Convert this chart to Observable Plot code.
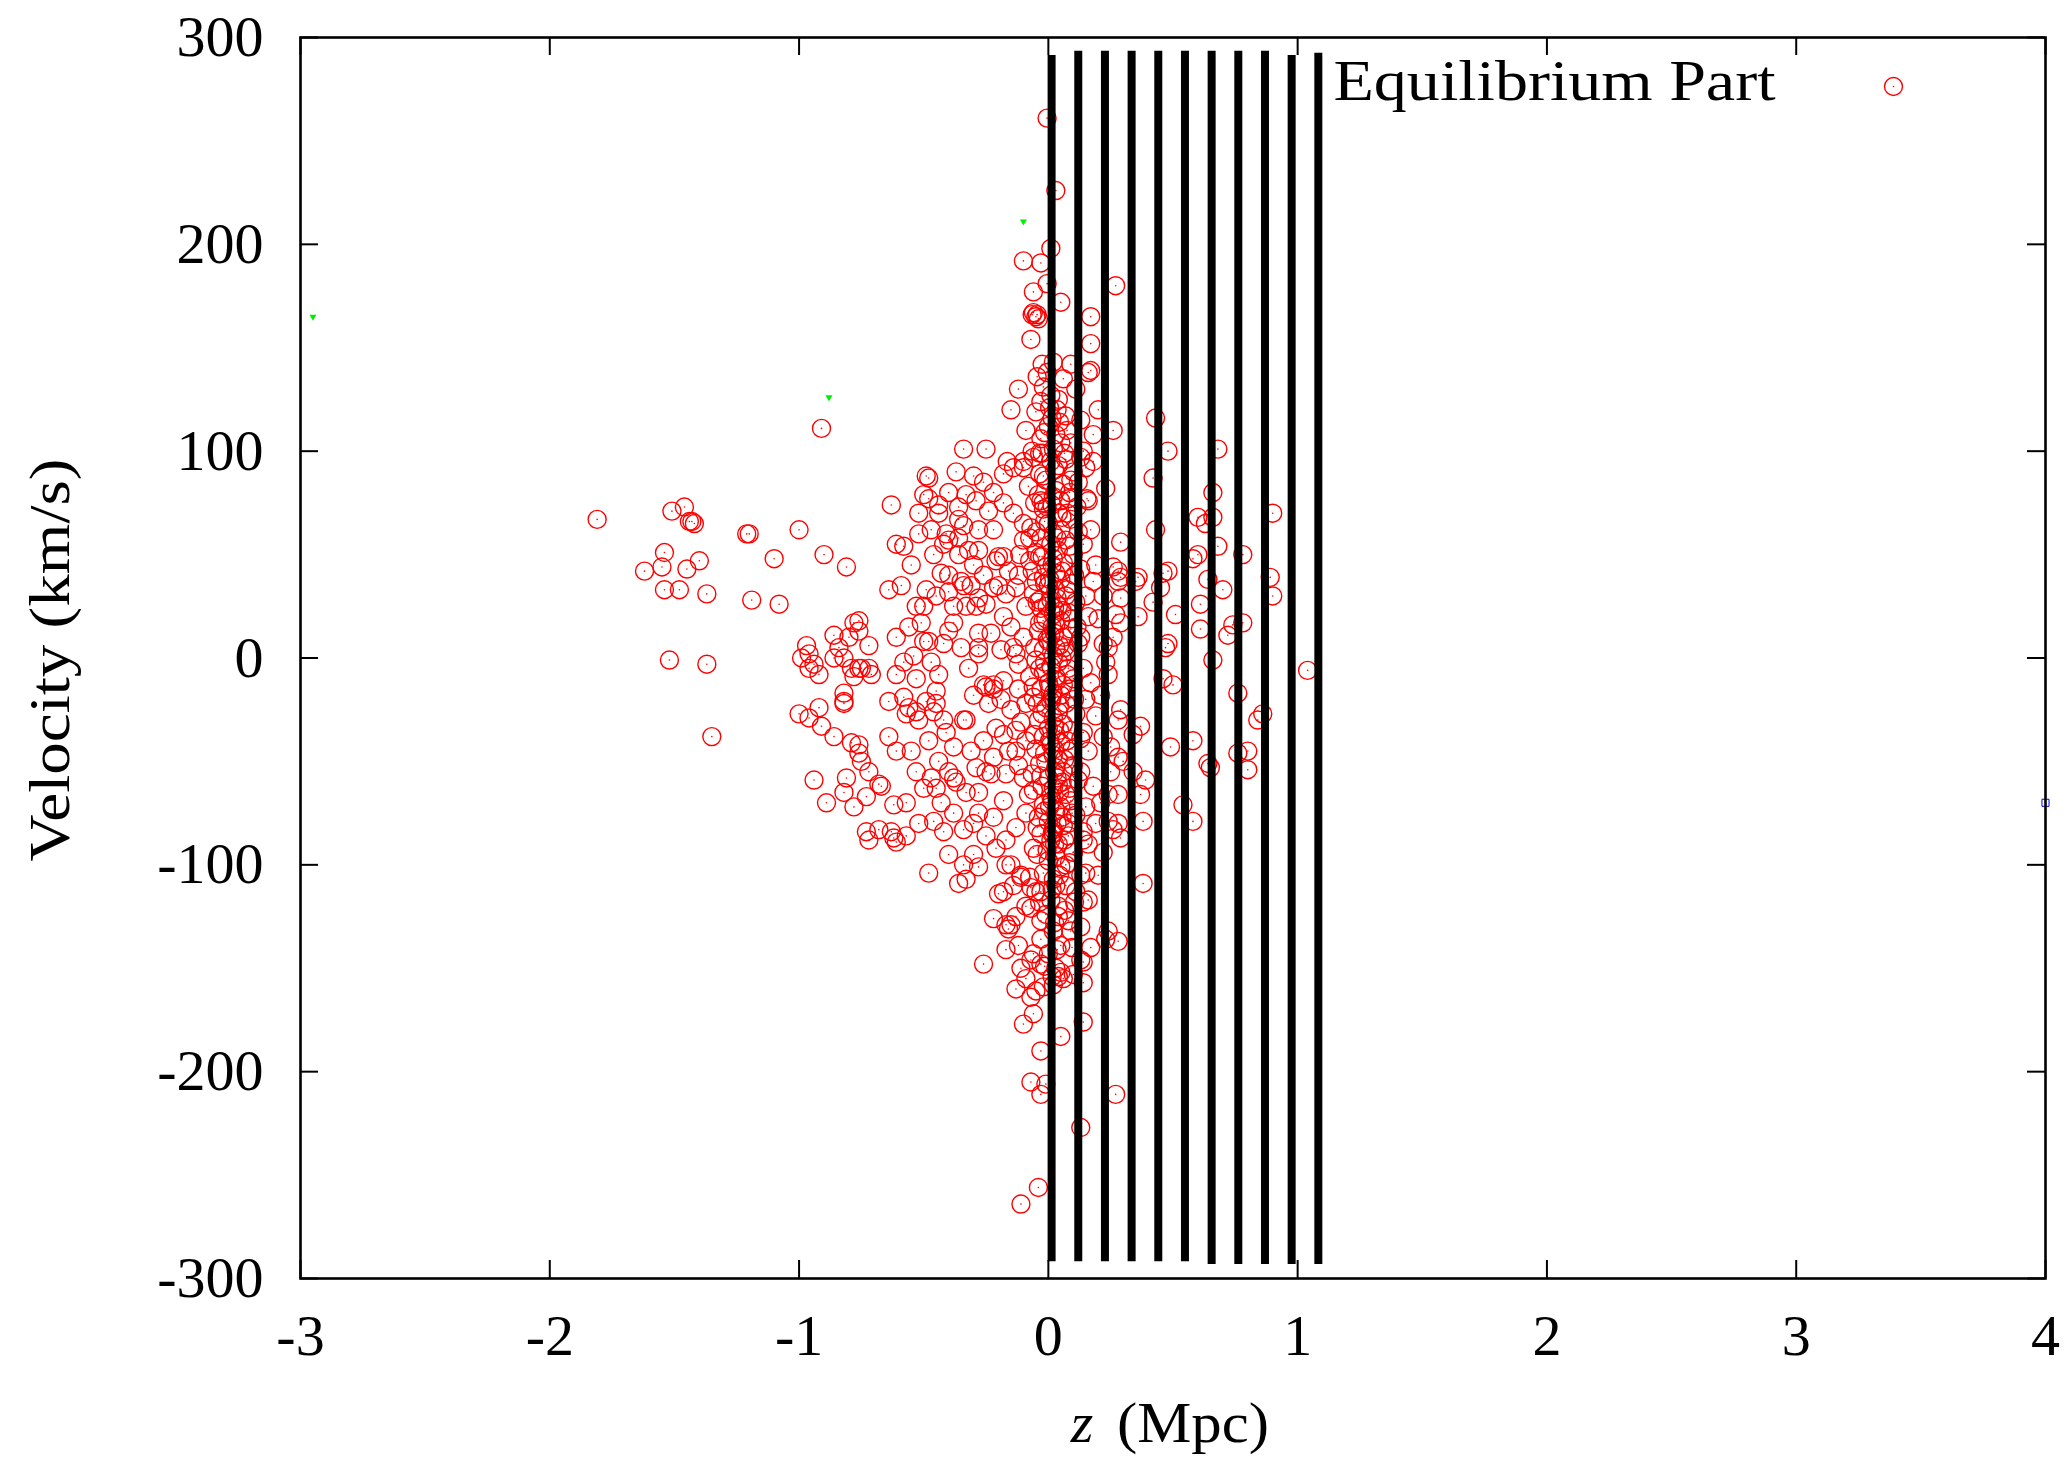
<!DOCTYPE html>
<html>
<head>
<meta charset="utf-8">
<script src="https://cdn.jsdelivr.net/npm/d3@7"></script>
<script src="https://cdn.jsdelivr.net/npm/@observablehq/plot@0.6"></script>
<style>
  html, body { margin: 0; padding: 0; background: #fff; }
  #chart svg { display: block; }
</style>
</head>
<body>
<div id="chart"></div>
<script>
// ---------------- DATA (z in Mpc, velocity in km/s) ----------------
const xTicks = [-3, -2, -1, 0, 1, 2, 3, 4];
const yTicks = [-300, -200, -100, 0, 100, 200, 300];
const xLabel = "(Mpc)";
const xLabelVar = "z";
const yLabel = "Velocity (km/s)";
const seriesName = "Equilibrium Part";

// vertical black bars
const barZ = [0.013, 0.120, 0.227, 0.334, 0.441, 0.548, 0.655, 0.762, 0.869, 0.976, 1.083];
const barTop = [291.3, 293.4, 293.4, 293.4, 293.4, 293.4, 293.4, 293.4, 293.4, 291.3, 292.4];
const barBottom = [-291.9, -291.9, -291.9, -291.9, -291.9, -291.9, -293.2, -293.2, -293.2, -293.2, -293.2];

// equilibrium part points [z, v]
const farLeft = [
[-1.81,67],[-1.51,71],[-1.46,73],[-1.44,66],[-1.43,66],[-1.42,65],[-1.54,51],[-1.62,42],[-1.55,44],[-1.45,43],
[-1.40,47],[-1.54,33],[-1.48,33],[-1.37,31],[-1.52,-1],[-1.37,-3],[-1.35,-38],[-1.21,60],[-1.20,60],[-1.00,62],
[-1.10,48],[-1.19,28],[-1.08,26],[-0.91,111],[-0.90,50],[-0.81,44]
];
const leftCluster = [
[-0.99,0],[-0.97,6],[-0.96,2],[-0.94,-3],[-0.96,-5],[-0.92,-8],[-0.86,11],[-0.84,5],[-0.86,0],[-0.82,0],
[-0.79,-5],[-0.76,-5],[-0.75,-5],[-0.72,-5],[-0.72,6],[-0.78,17],[-0.76,18],[-0.76,13],[-0.80,10],[-0.78,-9],
[-0.82,-17],[-0.82,-21],[-0.82,-22],[-1.00,-27],[-0.96,-29],[-0.92,-24],[-0.91,-33],[-0.86,-38],[-0.79,-41],[-0.76,-42],
[-0.76,-46],[-0.75,-50],[-0.72,-55],[-0.68,-61],[-0.94,-59],[-0.89,-70],[-0.81,-58],[-0.82,-65],[-0.78,-72],[-0.73,-67],
[-0.67,-62],[-0.62,-71],[-0.73,-84],[-0.68,-83],[-0.63,-84],[-0.62,-87],[-0.57,-86],[-0.72,-88],[-0.61,-89],[-0.64,33],
[-0.61,10],[-0.61,-8],[-0.64,-21],[-0.58,-19],[-0.53,-26],[-0.52,-30],[-0.64,-38],[-0.61,-45],[-0.57,-27],[-0.56,-24],
[-0.54,1],[-0.63,74],[-0.61,55],[-0.58,54],[-0.52,60],[-0.71,-8]
];
const midBand = [
[-0.49,88],[-0.48,87],[-0.50,79],[-0.48,77],[-0.44,74],[-0.44,70],[-0.41,60],[-0.40,57],[-0.36,73],[-0.33,79],
[-0.29,76],[-0.36,67],[-0.34,64],[-0.36,58],[-0.36,50],[-0.32,52],[-0.28,52],[-0.34,101],[-0.25,101],[-0.28,62],
[-0.24,71],[-0.22,62],[-0.21,47],[-0.18,49],[-0.49,33],[-0.50,25],[-0.51,17],[-0.43,41],[-0.35,37],[-0.34,35],
[-0.40,32],[-0.38,25],[-0.38,17],[-0.40,13],[-0.42,7],[-0.48,8],[-0.50,8],[-0.28,29],[-0.29,25],[-0.25,26],
[-0.28,12],[-0.28,5],[-0.28,2],[-0.20,49],[-0.22,34],[-0.20,35],[-0.17,31],[-0.13,34],[-0.19,4],[-0.14,5],
[-0.12,-3],[-0.13,2],[-0.18,-11],[-0.22,-13],[-0.26,-13],[-0.25,-14],[-0.22,-15],[-0.45,-16],[-0.49,-21],[-0.46,-26],
[-0.45,-22],[-0.42,-30],[-0.41,-36],[-0.38,-43],[-0.50,-63],[-0.45,-63],[-0.40,-55],[-0.38,-58],[-0.46,-79],[-0.42,-84],
[-0.38,-75],[-0.34,-83],[-0.29,-53],[-0.25,-55],[-0.23,-56],[-0.28,-65],[-0.22,-77],[-0.28,-75],[-0.21,-34],[-0.18,-37],
[-0.13,-35],[-0.34,-30],[-0.33,-30],[-0.16,-45],[-0.13,-45],[-0.10,-58],[-0.08,-66],[-0.18,-69],[-0.48,-104],[-0.36,-109],
[-0.33,-107],[-0.28,-101],[-0.20,-114],[-0.22,-126],[-0.16,-131],[-0.17,-129],[-0.17,-141],[-0.26,-148],[-0.17,-100]
];
const leftFlank = [
[-0.12,-15],[-0.09,-22],[-0.15,-25],[-0.11,-31],[-0.19,-20],[-0.24,-22],[-0.30,-18],[-0.09,-40],[-0.12,-52],[-0.17,-56],
[-0.22,-48],[-0.26,-40],[-0.31,-45],[-0.09,-75],[-0.13,-82],[-0.17,-88],[-0.21,-92],[-0.25,-86],[-0.30,-95],[-0.11,-105],
[-0.14,-110],[-0.09,-120],[-0.12,-139],[-0.09,-155],[-0.13,-160],[-0.10,10],[-0.15,15],[-0.18,20],[-0.23,12],[-0.09,25],
[-0.12,40],[-0.16,42],[-0.26,40],[-0.31,35],[-0.10,65],[-0.14,70],[-0.18,75],[-0.22,80],[-0.26,85],[-0.09,110],
[-0.12,130],[-0.30,45],[-0.33,25],[-0.35,5],[-0.32,-5],[-0.37,-60],[-0.33,-65],[-0.30,-80],[-0.43,-70],[-0.40,-95],
[-0.34,-100],[-0.44,-50],[-0.48,-40],[-0.53,-55],[-0.55,-45],[-0.57,-70],[-0.52,-80],[-0.47,-58],[-0.44,-8],[-0.47,-2],
[-0.53,-10],[-0.58,-2],[-0.56,15],[-0.53,25],[-0.59,35],[-0.55,45],[-0.46,50],[-0.42,55],[-0.47,62],[-0.52,70],
[-0.40,80],[-0.37,90],[-0.30,88],[-0.45,30],[-0.40,40]
];
const core = [
[-0.02,131],[0.01,127],[0.04,125],[-0.05,119],[0.07,117],[0.00,112],[0.03,108],[-0.03,106],[0.09,104],[0.02,101],
[-0.06,97],[0.01,95],[0.04,93],[0.10,90],[-0.01,86],[0.06,84],[0.03,81],[-0.08,83],[0.12,85],
[-0.04,79],[0.02,78],[0.08,77],[-0.02,72],[0.04,70],[0.09,67],[0.00,65],[-0.07,63],[0.05,62],[0.12,61],[0.02,60],
[-0.03,58],[0.07,57],[0.01,55],[0.04,52],[-0.05,51],[0.10,50],[0.02,48],[0.06,46],[-0.01,44],[0.13,43],[0.03,41],
[-0.02,39],[0.05,38],[0.09,36],[0.00,35],[0.03,33],[-0.06,31],[0.07,30],[0.01,28],[0.11,27],[0.04,25],[-0.03,24],[0.08,22],[0.02,21],
[-0.01,19],[0.05,18],[0.03,16],[0.09,14],[-0.04,13],[0.01,11],[0.06,10],[0.00,8],[0.12,7],[0.03,5],[-0.02,4],[0.07,3],[0.02,1],
[-0.05,-1],[0.04,-2],[0.01,-4],[0.08,-5],[-0.02,-7],[0.03,-9],[0.10,-10],[0.00,-12],[0.06,-13],[-0.03,-15],[0.02,-17],[0.05,-18],[-0.06,-19],
[0.01,-21],[0.07,-22],[-0.01,-24],[0.04,-26],[0.11,-27],[0.02,-29],[-0.04,-30],[0.06,-32],[0.00,-34],[0.09,-35],[0.03,-37],[-0.02,-38],[0.13,-39],
[0.05,-41],[0.01,-42],[-0.05,-44],[0.08,-45],[0.02,-47],[0.04,-49],[-0.01,-50],[0.10,-52],[0.03,-53],[0.06,-55],[-0.03,-57],[0.00,-58],[0.12,-59],
[0.04,-61],[0.02,-63],[-0.06,-64],[0.07,-66],[0.01,-67],[0.09,-69],[-0.02,-71],[0.05,-72],[0.03,-74],[0.11,-76],[-0.04,-77],[0.00,-79],
[0.06,-81],[0.02,-83],[-0.03,-85],[0.08,-86],[0.01,-88],[0.04,-90],[-0.06,-92],[0.10,-94],[0.03,-96],[0.00,-98],
[0.05,-101],[-0.02,-104],[0.02,-107],[0.07,-110],[-0.05,-113],[0.01,-117],[0.04,-120],[-0.01,-124],[0.08,-127],
[0.02,-132],[-0.03,-136],[0.05,-139],[0.00,-143],[-0.07,-146],[0.03,-150],[0.06,-155],[-0.02,-159],
[0.015,45],[-0.015,36],[0.035,29],[0.055,23],[-0.035,17],[0.025,12],[0.045,6],[-0.015,-2],[0.035,-11],[0.015,-19],
[-0.025,-27],[0.045,-35],[0.025,-44],[-0.035,-51],[0.055,-60],[0.015,-69],[-0.015,-74],[0.035,-80],[0.065,-88],[-0.045,-95],
[0.005,-40],[0.025,-55],[0.045,-65],[0.015,-85],[0.075,-40],[0.065,5],[-0.005,25],[0.085,-15]
];
const coreDense = [
[0.005,121],[0.045,114],[-0.015,109],[0.065,99],[0.025,91],[-0.035,89],[0.085,80],[0.015,74],[0.055,68],[-0.015,66],
[0.035,58],[0.085,54],[-0.025,49],[0.055,42],[0.005,38],[0.075,33],[-0.045,27],[0.025,24],[0.095,19],[0.015,15],
[-0.005,9],[0.055,0],[-0.035,-5],[0.075,-8],[0.005,-14],[0.045,-23],[-0.045,-22],[0.025,-33],[0.095,-44],[-0.015,-46],
[0.065,-49],[0.035,-58],[-0.025,-62],[0.085,-63],[0.005,-72],[0.055,-77],[-0.045,-82],[0.025,-90],[0.085,-99],[-0.005,-93],
[0.045,-105],[0.015,-112],[-0.035,-118],[0.065,-122],[0.025,-128],[0.035,-141],[-0.015,-149],[0.015,-154],[0.105,-118],[0.095,-140],
[0.105,-20],[0.115,15],[0.105,40],[0.095,-75],[-0.055,-37],[-0.055,5],[-0.065,42],[-0.065,-56],[-0.075,-106],[-0.065,100]
];
const rightFlank = [
[0.14,-5],[0.17,-12],[0.15,-20],[0.19,-28],[0.14,-36],[0.22,-38],[0.16,-45],[0.13,-55],[0.18,-62],[0.21,-70],
[0.15,-72],[0.19,-80],[0.14,-88],[0.13,10],[0.16,20],[0.15,30],[0.19,45],[0.14,55],[0.17,62],[0.21,-18],
[0.24,-8],[0.26,10],[0.13,115],[0.20,120],[0.23,-2],[0.25,-55],[0.28,-80],[0.18,95],[0.22,30],[0.14,-118],
[0.17,-140],[0.20,-105],[0.155,77],[0.18,37],[0.20,19],[0.28,37],[0.29,29],[0.27,21],[0.29,17],[0.22,7],
[0.24,5],[0.26,44],[0.28,42],[0.45,34],[0.29,-25],[0.28,-30],[0.34,-37],[0.30,-50],[0.34,-55],[0.39,-59],
[0.25,-43],[0.28,-48],[0.24,-66],[0.58,48],[0.64,38],[0.78,17],[0.47,5]
];
const topAndRight = [
[-0.005,261],[0.03,226],[0.01,198],[-0.03,191],[-0.10,192],[-0.005,181],[-0.06,177],[0.27,180],[0.05,172],[-0.06,167],
[-0.045,166],[0.17,165],[-0.065,166],[-0.05,165],[-0.04,164],[-0.07,154],[0.17,152],[-0.025,142],[0.02,143],[0.09,142],
[0.17,139],[0.16,138],[-0.045,136],[-0.005,138],[0.06,135],[0.11,130],[-0.03,124],[-0.15,120],[0.035,120],[0.015,116],
[0.43,116],[0.075,110],[0.18,108],[0.26,110],[-0.025,99],[0.05,104],[0.13,97],[0.14,100],[-0.165,95],[-0.18,89],
[-0.10,95],[-0.14,92],[-0.10,92],[0.48,100],[0.68,101],[0.07,96],[0.15,92],[0.09,86],[-0.02,88],[0.23,82],
[0.42,87],[0.66,80],[0.90,70],[0.16,76],[-0.03,76],[-0.005,73],[0.05,76],[0.075,70],[0.115,73],[0.43,62],
[0.60,68],[0.66,68],[0.63,65],[0.29,56],[0.68,54],[0.60,50],[0.78,50],[0.89,39],[0.90,30],[0.70,33],
[0.61,26],[0.66,-1],[1.04,-6],[0.76,-17],[0.86,-27],[0.84,-30],[0.58,-40],[0.49,-43],[0.76,-46],[0.80,-45],
[0.64,-51],[0.65,-53],[0.80,-54],[0.48,7],[0.46,-10],[0.50,-13],[0.37,-33],[0.74,16],[0.61,14],[0.72,11],
[0.51,21],[0.36,20],[0.42,27],[0.35,37],[0.36,39],[0.46,41],[0.48,42],[0.29,39],[-0.035,99],[-0.055,75],
[-0.021,75],[-0.10,57],[-0.075,58],[-0.048,61],[-0.115,50],[-0.075,47],[-0.035,49],[-0.048,37],[-0.035,28],[-0.021,18],
[-0.075,-9],[-0.061,-14]
];
const bottomTail = [
[0.28,-66],[0.37,-66],[0.54,-71],[0.58,-79],[0.38,-79],[0.29,-87],[0.26,-83],[0.24,-79],[0.22,-94],[0.38,-109],
[0.16,-117],[0.11,-113],[0.13,-105],[0.28,-137],[0.23,-136],[0.24,-132],[0.13,-130],[0.09,-132],[0.14,-147],[0.13,-146],
[0.14,-157],[0.10,-153],[0.05,-152],[0.02,-158],[0.04,-154],[0.14,-176],[0.05,-183],[0.27,-211],[0.13,-227],[-0.03,-190],
[-0.07,-205],[-0.03,-211],[-0.01,-206],[-0.10,-177],[-0.06,-172],[-0.04,-256],[-0.11,-264],[-0.07,-164],[-0.05,-161],[-0.11,-150],
[-0.03,-148],[-0.06,-143],[-0.15,-129],[-0.13,-125],[-0.07,-121],[-0.03,-127],[0.04,-125],[-0.15,-100],[-0.11,-106],[-0.07,-111],
[-0.03,-113],[-0.18,-113],[0.03,-110],[0.07,-100],[0.10,-94],[0.15,-104],[0.16,-90],[0.14,-84],[0.08,-80],[0.02,-85]
];

// small stray marks of other series
const greenMarks = [[-2.95,165],[-0.88,126],[-0.10,211]];
const blueMarks = [[4.0,-70]];

// ---------------- CHART ----------------
const points = [...farLeft, ...leftCluster, ...midBand, ...leftFlank, ...core, ...coreDense, ...rightFlank, ...topAndRight, ...bottomTail]
  .map(([z, v]) => ({z, v}));
const bars = barZ.map((z, i) => ({z, top: barTop[i], bottom: barBottom[i]}));

const W = 2070, H = 1457, mL = 300, mR = 25, mT = 37, mB = 179;
const tickPx = 18;
const yTickLen = tickPx * (yTicks[yTicks.length-1] - yTicks[0]) / (H - mT - mB);
const xTickLen = tickPx * (xTicks[xTicks.length-1] - xTicks[0]) / (W - mL - mR);
const RED = "#ff0000";
const FONT = "Liberation Serif, Times New Roman, serif";

const chart = Plot.plot({
  width: W, height: H,
  marginLeft: mL, marginRight: mR, marginTop: mT, marginBottom: mB,
  x: {domain: [xTicks[0], xTicks[xTicks.length-1]], axis: null},
  y: {domain: [yTicks[0], yTicks[yTicks.length-1]], axis: null},
  style: {fontFamily: FONT, background: "white", color: "black", overflow: "visible"},
  marks: [
    // data points
    Plot.dot(points, {x: "z", y: "v", r: 9, stroke: RED, strokeWidth: 1.4, fill: "none"}),
    Plot.dot(points, {x: "z", y: "v", r: 0.8, fill: RED, stroke: "none"}),
    // stray marks
    Plot.dot(greenMarks, {x: d => d[0], y: d => d[1], symbol: "triangle", r: 2.6, fill: "#00ee00", rotate: 180}),
    Plot.dot(blueMarks, {x: d => d[0], y: d => d[1], symbol: "square", r: 4, stroke: "#0000ff", fill: "none", strokeWidth: 1}),
    // vertical bars
    Plot.ruleX(bars, {x: "z", y1: "bottom", y2: "top", stroke: "black", strokeWidth: 8}),
    // ticks (inward, mirrored)
    Plot.ruleX(xTicks, {x: d => d, y1: yTicks[0], y2: yTicks[0] + yTickLen, stroke: "black", strokeWidth: 2}),
    Plot.ruleX(xTicks, {x: d => d, y1: yTicks[yTicks.length-1] - yTickLen, y2: yTicks[yTicks.length-1], stroke: "black", strokeWidth: 2}),
    Plot.ruleY(yTicks, {y: d => d, x1: xTicks[0], x2: xTicks[0] + xTickLen, stroke: "black", strokeWidth: 2}),
    Plot.ruleY(yTicks, {y: d => d, x1: xTicks[xTicks.length-1] - xTickLen, x2: xTicks[xTicks.length-1], stroke: "black", strokeWidth: 2}),
    Plot.frame({stroke: "black", strokeWidth: 2.6}),
    // tick labels
    Plot.text(xTicks, {x: d => d, text: d => String(d), frameAnchor: "bottom", lineAnchor: "top", dy: 35, fontSize: 58, fill: "black"}),
    Plot.text(yTicks, {y: d => d, text: d => String(d), frameAnchor: "left", textAnchor: "end", lineAnchor: "middle", dx: -37, fontSize: 58, fill: "black"}),
    // axis labels
    Plot.text([yLabel], {text: d => d, frameAnchor: "left", textAnchor: "middle", lineAnchor: "middle", dx: -250, dy: 2, rotate: -90, fontSize: 58, fill: "black"}),
    Plot.text([xLabelVar], {text: d => d, frameAnchor: "bottom", textAnchor: "middle", lineAnchor: "middle", dx: -91, dy: 145, fontSize: 58, fontStyle: "italic", fill: "black"}),
    Plot.text([xLabel], {text: d => d, frameAnchor: "bottom", textAnchor: "middle", lineAnchor: "middle", dx: 20, dy: 145, fontSize: 58, fill: "black"}),
    // legend
    Plot.text([seriesName], {text: d => d, frameAnchor: "top-right", textAnchor: "end", lineAnchor: "middle", dx: -270, dy: 44, fontSize: 58, fill: "black"}),
    Plot.dot([seriesName], {frameAnchor: "top-right", dx: -152, dy: 49, r: 9, stroke: RED, strokeWidth: 1.4, fill: "none"}),
    Plot.dot([seriesName], {frameAnchor: "top-right", dx: -152, dy: 49, r: 0.8, fill: RED, stroke: "none"})
  ]
});

// stretch text labels to the widths of the reference's wider serif face
const widths = {"Equilibrium Part": 442, "Velocity (km/s)": 403, "(Mpc)": 152};
chart.querySelectorAll("text").forEach(t => {
  const s = t.textContent;
  if (widths[s]) {
    const target = t.querySelector("tspan") || t;
    target.setAttribute("textLength", widths[s]);
    target.setAttribute("lengthAdjust", "spacingAndGlyphs");
  }
});

document.getElementById("chart").appendChild(chart);
</script>
</body>
</html>
